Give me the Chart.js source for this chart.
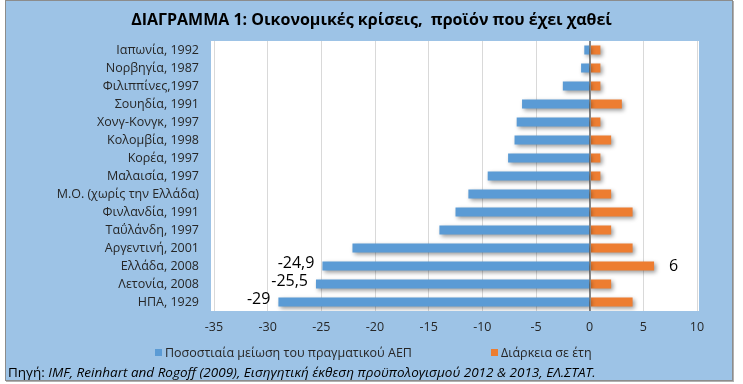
<!DOCTYPE html>
<html>
<head>
<meta charset="utf-8">
<script src="https://cdn.jsdelivr.net/npm/chart.js@4"></script>
<style>
  body { margin: 0; background: #fff; font-family: 'Open Sans', sans-serif; }
  #wrap { position: relative; width: 743px; height: 384px; }
  #frame { position: absolute; left: 5px; top: 0; width: 726px; height: 379px;
           background: #9DC3E6; border: 1px solid #8c8c8c; box-shadow: 1px 1px 0 #b0b0b0; }
  #chart { position: absolute; left: 0; top: 0; }
  #title { position: absolute; left: 0; top: 8px; width: 743px; text-align: center;
           font-size: 16px; font-weight: bold; color: #000; white-space: pre; }
  .leg { position: absolute; top: 344px; font-size: 12.5px; color: #262626; white-space: nowrap; }
  .leg i { display: inline-block; width: 7px; height: 7px; margin-right: 3px; vertical-align: 1px; }
  #source { position: absolute; left: 8px; top: 363px; font-size: 13.5px; color: #000; white-space: nowrap; }
</style>
</head>
<body>
<div id="wrap">
  <div id="frame"></div>
  <canvas id="chart" width="743" height="384"></canvas>
  <div id="title"></div>
  <div id="legend"></div>
  <div id="source">Πηγή: <em>IMF, Reinhart and Rogoff (2009), Εισηγητική έκθεση προϋπολογισμού 2012 &amp; 2013, ΕΛ.ΣΤΑΤ.</em></div>
</div>
<script>
// data
const categories = ['Ιαπωνία, 1992', 'Νορβηγία, 1987', 'Φιλιππίνες,1997', 'Σουηδία, 1991', 'Χονγ-Κονγκ, 1997',
    'Κολομβία, 1998', 'Κορέα, 1997', 'Μαλαισία, 1997', 'Μ.Ο. (χωρίς την Ελλάδα)', 'Φινλανδία, 1991',
    'Ταΰλάνδη, 1997', 'Αργεντινή, 2001', 'Ελλάδα, 2008', 'Λετονία, 2008', 'ΗΠΑ, 1929'];
const gdpDrop = [-0.5, -0.8, -2.5, -6.3, -6.8, -7.0, -7.6, -9.5, -11.3, -12.5, -14.0, -22.1, -24.9, -25.5, -29];
const durationYears = [1, 1, 1, 3, 1, 2, 1, 1, 2, 4, 2, 4, 6, 2, 4];
const xTicks = [-35, -30, -25, -20, -15, -10, -5, 0, 5, 10];
const gdpLabelIdx = [12, 13, 14];
const durLabelIdx = [12];
const seriesNames = ['Ποσοστιαία μείωση του πραγματικού ΑΕΠ', 'Διάρκεια σε έτη'];
const seriesColors = ['#5B9BD5', '#ED7D31'];
const titleText = 'ΔΙΑΓΡΑΜΜΑ 1: Οικονομικές κρίσεις,  προϊόν που έχει χαθεί';

const FONT = "'Open Sans', sans-serif";

document.getElementById('title').textContent = titleText;

// html legend
const legendEl = document.getElementById('legend');
const legendLeft = [155, 491];
seriesNames.forEach((name, i) => {
    const d = document.createElement('div');
    d.className = 'leg';
    d.style.left = legendLeft[i] + 'px';
    d.innerHTML = `<i style="background:${seriesColors[i]}"></i>${name}`;
    legendEl.appendChild(d);
});

const plotBg = {
    id: 'plotBg',
    beforeDraw(chart) {
        const a = chart.chartArea, ctx = chart.ctx;
        ctx.save();
        ctx.fillStyle = '#fff';
        ctx.fillRect(a.left - 3, a.top, a.right - a.left + 5, a.bottom - a.top);
        ctx.restore();
    }
};

const barExtras = {
    id: 'barExtras',
    beforeDatasetsDraw(chart) {
        const ctx = chart.ctx;
        ctx.save();
        ctx.shadowColor = 'rgba(0,0,0,0.4)';
        ctx.shadowBlur = 4;
        ctx.shadowOffsetX = 2;
        ctx.shadowOffsetY = 2;
    },
    afterDatasetsDraw(chart) {
        const ctx = chart.ctx;
        ctx.restore();
        const a = chart.chartArea;
        const x0 = Math.round(chart.scales.x.getPixelForValue(0)) + 0.5;
        ctx.save();
        ctx.strokeStyle = '#868686';
        ctx.lineWidth = 1;
        ctx.beginPath();
        ctx.moveTo(x0, a.top);
        ctx.lineTo(x0, a.bottom);
        ctx.stroke();

        ctx.font = '16px ' + FONT;
        ctx.fillStyle = '#000';
        ctx.textBaseline = 'middle';
        const m0 = chart.getDatasetMeta(0), m1 = chart.getDatasetMeta(1);
        ctx.textAlign = 'right';
        gdpLabelIdx.forEach(i => {
            const b = m0.data[i];
            ctx.fillText(String(gdpDrop[i]).replace('.', ','), b.x - 8, b.y - 3);
        });
        ctx.textAlign = 'left';
        durLabelIdx.forEach(i => {
            const b = m1.data[i];
            ctx.fillText(String(durationYears[i]).replace('.', ','), b.x + 15, b.y);
        });
        ctx.restore();
    }
};

new Chart(document.getElementById('chart'), {
    type: 'bar',
    data: {
        labels: categories,
        datasets: [
            { label: seriesNames[0], data: gdpDrop, backgroundColor: seriesColors[0], grouped: false,
              categoryPercentage: 1, barPercentage: 0.5 },
            { label: seriesNames[1], data: durationYears, backgroundColor: seriesColors[1], grouped: false,
              categoryPercentage: 1, barPercentage: 0.5 }
        ]
    },
    options: {
        indexAxis: 'y',
        responsive: false,
        animation: false,
        layout: { padding: { left: 0, right: 46, top: 41, bottom: 40 } },
        plugins: {
            legend: { display: false },
            tooltip: { enabled: false },
            title: { display: false }
        },
        scales: {
            x: {
                min: xTicks[0], max: xTicks[xTicks.length - 1],
                afterBuildTicks: s => { s.ticks = xTicks.map(v => ({ value: v })); },
                grid: { color: c => (c.tick && c.tick.value === 0) ? '#868686' : '#D9D9D9', drawTicks: false },
                border: { display: false },
                ticks: { color: '#262626', padding: 9, font: { family: FONT, size: 12.5 } }
            },
            y: {
                afterFit: s => { s.width = 214; },
                grid: { display: false, drawTicks: false },
                border: { display: false },
                ticks: { color: '#262626', padding: 15, autoSkip: false, font: { family: FONT, size: 12.5 } }
            }
        }
    },
    plugins: [plotBg, barExtras]
});
</script>
</body>
</html>
